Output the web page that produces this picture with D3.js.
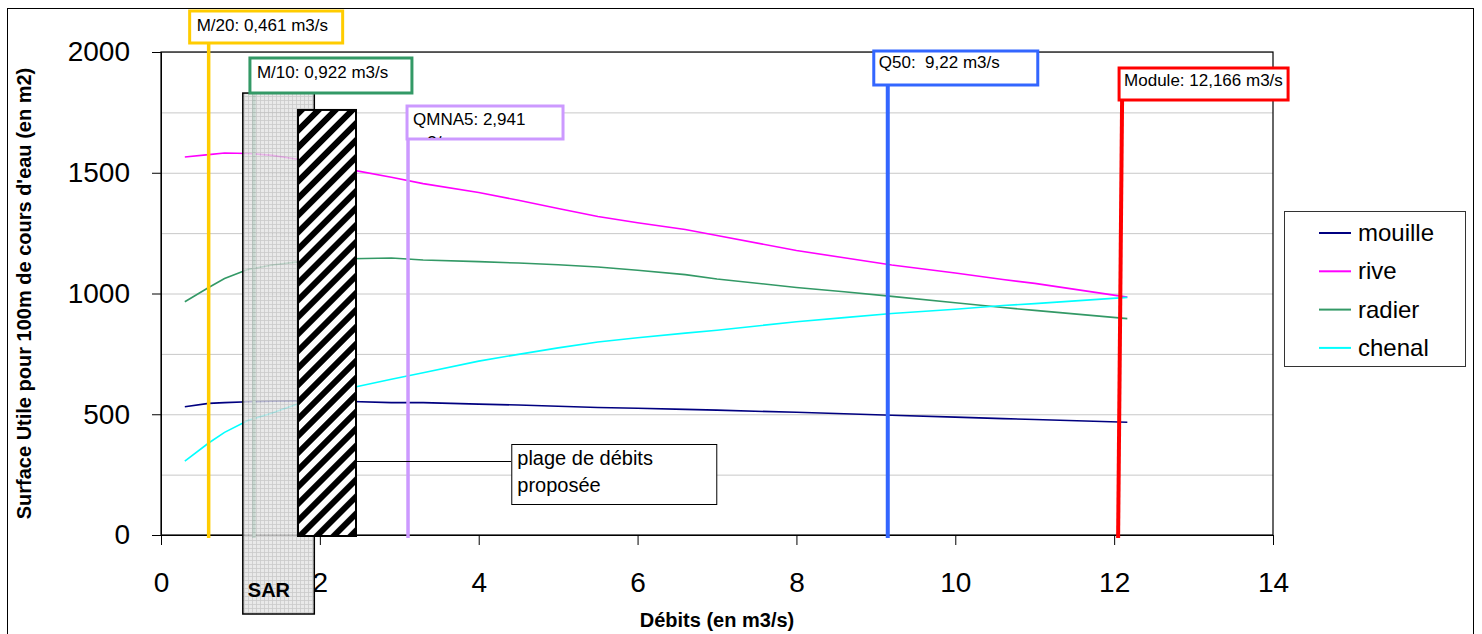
<!DOCTYPE html>
<html><head><meta charset="utf-8">
<script src="https://cdn.jsdelivr.net/npm/d3@7"></script>
<style>body{margin:0;background:#fff}svg{display:block}text{font-family:"Liberation Sans",Arial,sans-serif;white-space:pre}</style>
</head><body>
<svg id="c" width="1482" height="634"></svg>
<script>
// ---- data ----
const flows = [0.3,0.6,0.8,1.1,1.4,1.7,2.0,2.4,2.9,3.3,4.0,4.5,5.0,5.5,6.0,6.6,7.0,8.0,8.6,9.2,10.0,10.6,11.0,12.166];
const mouille = [531,545,548,552,554,555,555,553,548,548,542,538,533,528,525,520,517,508,502,496,488,482,478,467];
const rive    = [1565,1575,1582,1580,1572,1557,1540,1512,1481,1455,1418,1386,1352,1319,1293,1265,1240,1178,1148,1118,1085,1058,1042,985];
const radier  = [966,1025,1062,1100,1118,1130,1138,1144,1147,1139,1132,1126,1119,1110,1096,1078,1060,1025,1007,988,962,942,930,896];
const chenal  = [306,381,425,475,505,540,570,610,645,672,720,748,775,799,817,836,848,883,900,917,935,950,958,984];
const seriesNames = ["mouille","rive","radier","chenal"];
const seriesValues = [mouille, rive, radier, chenal];
const seriesColors = ["#000080","#FF00FF","#339966","#00FFFF"];

const xTicks = [0,2,4,6,8,10,12,14];
const yTicks = [0,500,1000,1500,2000];
const yGrid = [250,500,750,1000,1250,1500,1750,2000];

const markerLabels = ["M/20: 0,461 m3/s","M/10: 0,922 m3/s","QMNA5: 2,941\nm3/s","Q50:  9,22 m3/s","Module: 12,166 m3/s"];
const markerX    = [0.6, 1.17, 3.11, 9.15, 12.10];
const markerXEnd = [0.6, 1.17, 3.11, 9.15, 12.05];
const markerColors = ["#FFCC00","#339966","#CC99FF","#3366FF","#FF0000"];

const sarRange = [1.03, 1.93];      // SAR zone (x)
const sarTop = 1830;
const plageRange = [1.725, 2.455];  // proposed flow range (x)
const plageTop = 1760;
const plageLabel = ["plage de débits","proposée"];

// ---- layout ----
const svg = d3.select("#c");
const x = d3.scaleLinear().domain([0,14]).range([161,1273]);
const y = d3.scaleLinear().domain([0,2000]).range([535,52]);
const F = '"Liberation Sans",Arial,sans-serif';

// outer chart border
svg.append("rect").attr("x",7.5).attr("y",8.5).attr("width",1466).attr("height",700)
  .attr("fill","none").attr("stroke","#000").attr("stroke-width",1);

const defs = svg.append("defs");
const pg = defs.append("pattern").attr("id","gridpat").attr("patternUnits","userSpaceOnUse").attr("width",4).attr("height",4);
pg.append("rect").attr("width",4).attr("height",4).attr("fill","#e4e4e4");
pg.append("path").attr("d","M0,0.5H4M0.5,0V4").attr("stroke","#bdbdbd").attr("stroke-width",0.8);
const ph = defs.append("pattern").attr("id","hatch").attr("patternUnits","userSpaceOnUse")
  .attr("width",12).attr("height",12).attr("patternTransform","rotate(45)");
ph.append("rect").attr("width",12).attr("height",12).attr("fill","#fff");
ph.append("rect").attr("width",6).attr("height",12).attr("fill","#000");

// gridlines
svg.append("g").selectAll("line").data(yGrid).join("line")
  .attr("x1",x(0)).attr("x2",x(14)).attr("y1",d=>y(d)+0.5).attr("y2",d=>y(d)+0.5)
  .attr("stroke","#c8c8c8").attr("stroke-width",1);

// plot border
svg.append("rect").attr("x",x(0)).attr("y",y(2000)).attr("width",x(14)-x(0)).attr("height",y(0)-y(2000))
  .attr("fill","none").attr("stroke","#000").attr("stroke-width",1.2);

// axes
const ya = svg.append("g").attr("transform",`translate(${x(0)},0)`)
  .call(d3.axisLeft(y).tickValues(yTicks).tickFormat(d3.format("d")).tickSize(9).tickPadding(22));
ya.select(".domain").attr("stroke","#000");
ya.selectAll("text").attr("font-size",28).attr("font-family",F).attr("fill","#000");
const xa = svg.append("g").attr("transform",`translate(0,${y(0)})`)
  .call(d3.axisBottom(x).tickValues(xTicks).tickFormat(d3.format("d")).tickSize(10).tickPadding(27));
xa.select(".domain").attr("stroke","#000");
xa.selectAll("text").attr("font-size",28).attr("font-family",F).attr("fill","#000");

// axis titles
svg.append("text").attr("x",x(7)).attr("y",627).attr("text-anchor","middle")
  .attr("font-size",20).attr("font-weight","bold").text("Débits (en m3/s)");
svg.append("text").attr("transform",`translate(31,${(y(0)+y(2000))/2}) rotate(-90)`).attr("text-anchor","middle")
  .attr("font-size",20).attr("font-weight","bold").text("Surface Utile pour 100m de cours d'eau (en m2)");

// series
const line = d3.line().x((d,i)=>x(flows[i])).y(d=>y(d));
svg.append("g").selectAll("path").data(seriesValues).join("path")
  .attr("d",d=>line(d)).attr("fill","none").attr("stroke",(d,i)=>seriesColors[i]).attr("stroke-width",1.6);

// marker boxes geometry (offsets relative to line)
const boxes = [
  {dx:-19, w:153, top:11, h:32, tx:7, ty:20},
  {dx:-4,  w:162, top:58, h:35, tx:7, ty:20},
  {dx:-1,  w:156, top:106,h:33, tx:6, ty:19},
  {dx:-14, w:164, top:51, h:34, tx:5, ty:17},
  {dx:-3,  w:169, top:68, h:32, tx:5, ty:18}
];
// marker lines
svg.append("g").selectAll("line").data(markerX).join("line")
  .attr("x1",d=>x(d)).attr("x2",(d,i)=>x(markerXEnd[i]))
  .attr("y1",(d,i)=>boxes[i].top+boxes[i].h).attr("y2",y(0)+3)
  .attr("stroke",(d,i)=>i===1?"#5fa884":markerColors[i]).attr("stroke-width",(d,i)=>i>=3?4:3.5);

// SAR zone (semi-transparent)
svg.append("rect").attr("x",x(sarRange[0])).attr("y",y(sarTop)).attr("width",x(sarRange[1])-x(sarRange[0]))
  .attr("height",y(0)+79-y(sarTop)).attr("fill","url(#gridpat)").attr("fill-opacity",0.8)
  .attr("stroke","#000").attr("stroke-width",1.5);
svg.append("text").attr("x",x(sarRange[0])+5).attr("y",597).attr("font-size",20).attr("font-weight","bold").text("SAR");

// hatched proposed range
svg.append("rect").attr("x",x(plageRange[0])).attr("y",y(plageTop)).attr("width",x(plageRange[1])-x(plageRange[0]))
  .attr("height",y(0)+1-y(plageTop)).attr("fill","url(#hatch)").attr("stroke","#000").attr("stroke-width",2);

// plage label box and connector
const pbx = x(4.41), pby = 444;
svg.append("line").attr("x1",x(plageRange[1])).attr("x2",pbx).attr("y1",461.5).attr("y2",461.5).attr("stroke","#000").attr("stroke-width",1);
svg.append("rect").attr("x",pbx+0.5).attr("y",pby+0.5).attr("width",205).attr("height",60).attr("fill","#fff").attr("stroke","#000").attr("stroke-width",1);
svg.append("g").selectAll("text").data(plageLabel).join("text")
  .attr("x",pbx+6).attr("y",(d,i)=>465+i*27).attr("font-size",20).text(d=>d);

// marker boxes
const mb = svg.append("g");
markerX.forEach((v,i)=>{
  const b = boxes[i], bx = x(v)+b.dx;
  defs.append("clipPath").attr("id","clip"+i).append("rect").attr("x",bx).attr("y",b.top).attr("width",b.w).attr("height",b.h-1);
  mb.append("rect").attr("x",bx).attr("y",b.top).attr("width",b.w).attr("height",b.h)
    .attr("fill","#fff").attr("stroke",markerColors[i]).attr("stroke-width",3);
  const t = mb.append("text").attr("clip-path",`url(#clip${i})`).attr("font-size",17).attr("xml:space","preserve");
  markerLabels[i].split("\n").forEach((s,k)=>{
    t.append("tspan").attr("x",bx+b.tx).attr("y",b.top+b.ty+k*23).text(s);
  });
});

// legend
const lg = svg.append("g");
lg.append("rect").attr("x",1284.5).attr("y",211.5).attr("width",181).attr("height",155)
  .attr("fill","#fff").attr("stroke","#333").attr("stroke-width",1);
seriesNames.forEach((n,i)=>{
  const yy = 233 + i*38.3;
  lg.append("line").attr("x1",1319).attr("x2",1351).attr("y1",yy).attr("y2",yy).attr("stroke",seriesColors[i]).attr("stroke-width",2);
  lg.append("text").attr("x",1358).attr("y",yy+8).attr("font-size",24).text(n);
});
</script>
</body></html>
